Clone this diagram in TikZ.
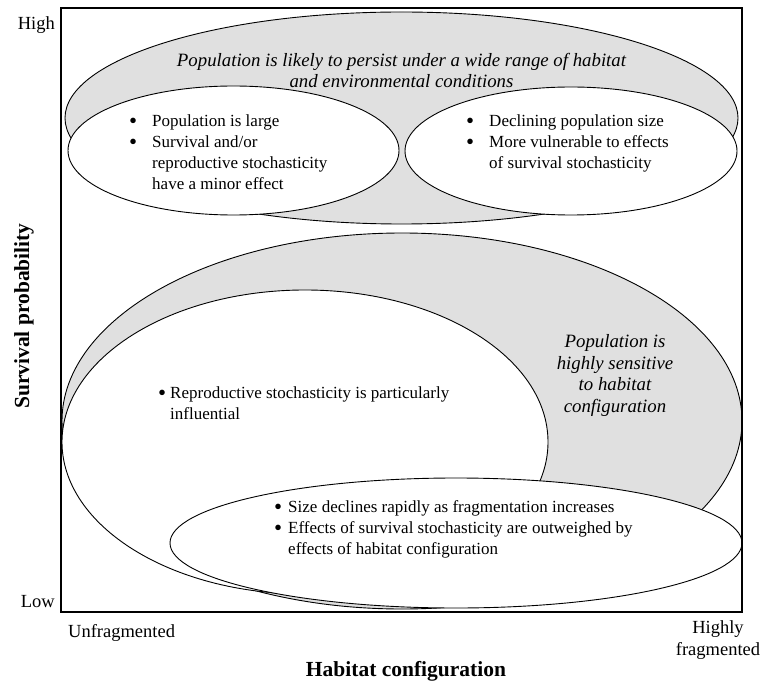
\documentclass[tikz,border=0pt]{standalone}
\usepackage{fontspec}
\setmainfont{Liberation Serif}
\usepackage{graphicx}
\usepackage{tikz}

\newcommand{\dotmark}{\raisebox{-2pt}{\scalebox{1.35}{\textbullet}}}

\begin{document}
\begin{tikzpicture}[x=1pt,y=-1pt,
	blob/.style={draw=black,line width=0.9pt,fill=black!12},
	hole/.style={draw=black,line width=0.9pt,fill=white},
	frame/.style={draw=black,line width=1.2pt},
	body/.style={inner sep=0pt,font=\fontsize{17}{21}\selectfont},
	claim/.style={inner sep=0pt,align=center,font=\fontsize{18.8}{21.5}\selectfont\itshape},
	tick/.style={inner sep=0pt,font=\fontsize{18.5}{22}\selectfont},
	axis/.style={inner sep=0pt,font=\fontsize{21.5}{24}\selectfont\bfseries}]

	\useasboundingbox (0,0) rectangle (767,684);

	\coordinate (persist) at (401.5,118);
	\coordinate (large) at (233.5,150.5);
	\coordinate (decline) at (571,151);
	\coordinate (sensitive) at (402,421);
	\coordinate (repro) at (305,442);
	\coordinate (rapid) at (456,543);

	% high survival
	\draw[blob] (persist) ellipse [x radius=336.5pt, y radius=106pt];
	\draw[hole] (large) ellipse [x radius=165.5pt, y radius=64.5pt];
	\draw[hole] (decline) ellipse [x radius=166pt, y radius=64pt];

	% low survival
	\draw[blob] (sensitive) ellipse [x radius=340pt, y radius=188pt];
	\draw[hole] (repro) ellipse [x radius=243pt, y radius=152pt];
	\draw[hole] (rapid) ellipse [x radius=286pt, y radius=65pt];

	\coordinate (origin) at (61,612);
	\coordinate (corner) at (742,8);
	\draw[frame] (origin) rectangle (corner);

	\node[claim,anchor=base] (persisttext) at (401.5,88)
		{Population is likely to persist under a wide range of habitat\\and environmental conditions};
	\node[body,anchor=base west] (largetext) at (129,127)
		{\begin{tabular}[t]{@{}l@{\hspace{15pt}}l@{}}
		\dotmark & Population is large\\
		\dotmark & Survival and/or\\
		& reproductive stochasticity\\
		& have a minor effect
		\end{tabular}};
	\node[body,anchor=base west] (declinetext) at (466,127)
		{\begin{tabular}[t]{@{}l@{\hspace{15pt}}l@{}}
		\dotmark & Declining population size\\
		\dotmark & More vulnerable to effects\\
		& of survival stochasticity
		\end{tabular}};
	\node[claim,anchor=base] (sensitivetext) at (615,412)
		{Population is\\highly sensitive\\to habitat\\configuration};
	\node[body,anchor=base west] (reprotext) at (158,398)
		{\begin{tabular}[t]{@{}l@{\hspace{4pt}}l@{}}
		\dotmark & Reproductive stochasticity is particularly\\
		& influential
		\end{tabular}};
	\node[body,anchor=base west] (rapidtext) at (274,512)
		{\begin{tabular}[t]{@{}l@{\hspace{6pt}}l@{}}
		\dotmark & Size declines rapidly as fragmentation increases\\
		\dotmark & Effects of survival stochasticity are outweighed by\\
		& effects of habitat configuration
		\end{tabular}};

	% axes
	\node[tick,anchor=base east] (high) at (55,30) {High};
	\node[tick,anchor=base east] (low) at (55,607) {Low};
	\node[tick,anchor=base west] (unfrag) at (68,637) {Unfragmented};
	\node[tick,anchor=base,align=center] (frag) at (718,655) {Highly\\fragmented};
	\node[axis,anchor=base] (xlabel) at (406,676) {Habitat configuration};
	\node[axis,anchor=base,rotate=90] (ylabel) at (29,316) {Survival probability};

\end{tikzpicture}
\end{document}
